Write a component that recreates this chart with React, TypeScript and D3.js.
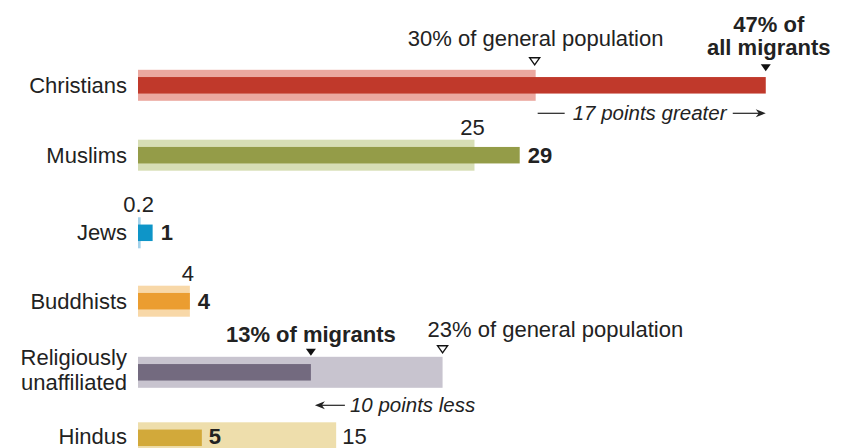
import { useEffect, useRef } from 'react';
import * as d3 from 'd3';

// Share of each religious group: all migrants vs general population (%)
const groups = ['Christians', 'Muslims', 'Jews', 'Buddhists', 'Religiously unaffiliated', 'Hindus'];
const migrants = [47.2, 28.7, 1.1, 3.9, 13, 4.8];
const generalPop = [29.9, 25.3, 0.2, 3.9, 22.9, 14.9];
const darkColors = ['#c0392b', '#949c48', '#0e95c8', '#eb9d30', '#736a7f', '#d2a93a'];
const lightColors = ['#eba8a0', '#d7deb5', '#a5d2ea', '#f8d8a8', '#c8c4cf', '#eedeac'];

const W = 842;
const H = 448;
const FONT = '"Liberation Sans", Arial, sans-serif';

export default function App() {
  const svgRef = useRef<SVGSVGElement>(null);

  useEffect(() => {
    if (!svgRef.current) return;
    const svg = d3.select(svgRef.current);
    svg.selectAll('*').remove();

    const x = d3.scaleLinear().domain([0, 47]).range([138, 138 + 13.3 * 47]);
    const y = d3.scalePoint<string>().domain(groups).range([85.3, 437.8]);
    // rows are not evenly spaced in the original because of annotations
    const nudge: Record<string, number> = { Muslims: -0.6, Jews: 6.5, Buddhists: 4.4, 'Religiously unaffiliated': 5 };
    const cy = (g: string) => (y(g) ?? 0) + (nudge[g] ?? 0);
    const fmt = (v: number) => (v < 1 ? String(v) : d3.format('.0f')(v));

    const wide = 31;
    const thin = 16.5;
    const g = svg.append('g').attr('font-family', FONT).attr('fill', '#222');

    const rows = g.selectAll('g.row')
      .data(groups)
      .join('g')
      .attr('class', 'row');

    rows.append('rect')
      .attr('x', x(0))
      .attr('y', d => cy(d) - wide / 2)
      .attr('width', (_, i) => x(generalPop[i]) - x(0))
      .attr('height', wide)
      .attr('fill', (_, i) => lightColors[i]);

    rows.append('rect')
      .attr('x', x(0))
      .attr('y', d => cy(d) - thin / 2)
      .attr('width', (_, i) => x(migrants[i]) - x(0))
      .attr('height', thin)
      .attr('fill', (_, i) => darkColors[i]);

    const base = (d: string) => cy(d) + (d === 'Hindus' ? 6 : 7.5);

    // category labels
    rows.each(function (d) {
      const t = d3.select(this).append('text')
        .attr('x', 127)
        .attr('text-anchor', 'end')
        .attr('font-size', 22)
        .attr('fill', '#222');
      const words = d === 'Religiously unaffiliated' ? ['Religiously', 'unaffiliated'] : [d];
      if (words.length === 1) {
        t.attr('y', base(d)).text(d);
      } else {
        words.forEach((w, k) => {
          t.append('tspan').attr('x', 127).attr('y', cy(d) - 7 + k * 25).text(w);
        });
      }
    });

    const txt = (px: number, py: number, s: string, opts: { anchor?: string; bold?: boolean; italic?: boolean; size?: number } = {}) =>
      g.append('text')
        .attr('x', px)
        .attr('y', py)
        .attr('text-anchor', opts.anchor ?? 'start')
        .attr('font-size', opts.size ?? 22)
        .attr('font-weight', opts.bold ? 'bold' : 'normal')
        .attr('font-style', opts.italic ? 'italic' : 'normal')
        .attr('fill', '#222')
        .text(s);

    const tri = (px: number, tipY: number, filled: boolean) =>
      g.append('path')
        .attr('d', `M${px - 5},${tipY - 7}L${px + 5},${tipY - 7}L${px},${tipY}Z`)
        .attr('fill', filled ? '#111' : '#fff')
        .attr('stroke', '#111')
        .attr('stroke-width', filled ? 0 : 1.4);

    // Christians annotations
    const c = 0;
    const cTop = cy(groups[c]) - wide / 2;
    txt(x(generalPop[c]), cTop - 24, `${fmt(generalPop[c])}% of general population`, { anchor: 'middle' });
    tri(x(generalPop[c]) - 1, cTop - 5, false);
    txt(x(migrants[c]) + 3, cTop - 38, `${fmt(migrants[c])}% of`, { anchor: 'middle', bold: true });
    txt(x(migrants[c]) + 3, cTop - 15, 'all migrants', { anchor: 'middle', bold: true });
    tri(x(migrants[c]), cTop + 1.5, true);
    const cArrowY = cTop + wide + 12.5;
    g.append('line')
      .attr('x1', x(generalPop[c]) + 2).attr('x2', x(generalPop[c]) + 29)
      .attr('y1', cArrowY).attr('y2', cArrowY)
      .attr('stroke', '#222').attr('stroke-width', 1.2);
    const diffUp = Math.round(migrants[c]) - Math.round(generalPop[c]);
    txt(x(generalPop[c]) + 37, cArrowY + 7, `${diffUp} points greater`, { italic: true, size: 20.5 });
    g.append('line')
      .attr('x1', x(migrants[c]) - 33).attr('x2', x(migrants[c]) - 4)
      .attr('y1', cArrowY).attr('y2', cArrowY)
      .attr('stroke', '#222').attr('stroke-width', 1.2);
    g.append('path')
      .attr('d', `M${x(migrants[c])},${cArrowY}L${x(migrants[c]) - 10},${cArrowY - 4}L${x(migrants[c]) - 7},${cArrowY}L${x(migrants[c]) - 10},${cArrowY + 4}Z`)
      .attr('fill', '#222');

    // Muslims, Jews, Buddhists: general above, migrants bold right
    [1, 2, 3].forEach(i => {
      const top = cy(groups[i]) - wide / 2;
      txt(x(generalPop[i]) - 2, top - 5, fmt(generalPop[i]), { anchor: 'middle' });
      txt(x(migrants[i]) + 8, base(groups[i]), fmt(migrants[i]), { bold: true });
    });

    // Religiously unaffiliated annotations
    const u = 4;
    const uTop = cy(groups[u]) - wide / 2;
    txt(x(migrants[u]), uTop - 15, `${fmt(migrants[u])}% of migrants`, { anchor: 'middle', bold: true });
    tri(x(migrants[u]), uTop - 1, true);
    txt(x(generalPop[u]) - 15, uTop - 20, `${fmt(generalPop[u])}% of general population`);
    tri(x(generalPop[u]), uTop - 4, false);
    const uArrowY = uTop + wide + 17.5;
    const ax = x(migrants[u]) + 4;
    g.append('path')
      .attr('d', `M${ax},${uArrowY}L${ax + 10},${uArrowY - 4}L${ax + 7},${uArrowY}L${ax + 10},${uArrowY + 4}Z`)
      .attr('fill', '#222');
    g.append('line')
      .attr('x1', ax + 4).attr('x2', ax + 30)
      .attr('y1', uArrowY).attr('y2', uArrowY)
      .attr('stroke', '#222').attr('stroke-width', 1.2);
    const diffDown = Math.round(generalPop[u]) - Math.round(migrants[u]);
    txt(ax + 35, uArrowY + 7, `${diffDown} points less`, { italic: true, size: 20.5 });

    // Hindus
    const h = 5;
    txt(x(migrants[h]) + 7, base(groups[h]), fmt(migrants[h]), { bold: true });
    txt(x(generalPop[h]) + 6, base(groups[h]), fmt(generalPop[h]));
  }, []);

  return (
    <svg
      ref={svgRef}
      width={W}
      height={H}
      style={{ position: 'absolute', left: 0, top: 0, background: '#fff' }}
    />
  );
}
